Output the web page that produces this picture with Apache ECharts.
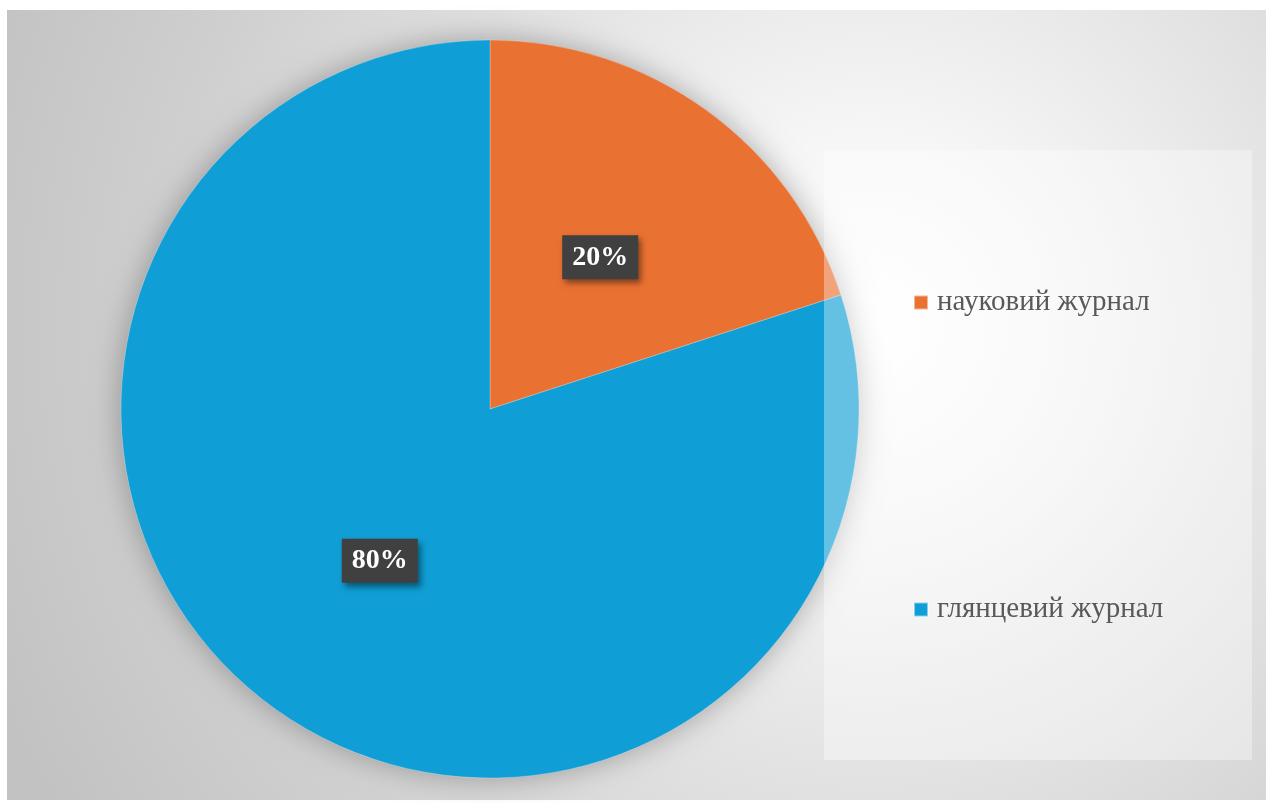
<!DOCTYPE html>
<html>
<head>
<meta charset="utf-8">
<script src="https://cdn.jsdelivr.net/npm/echarts@6/dist/echarts.min.js"></script>
<style>
html,body{margin:0;padding:0;background:#ffffff;}
#chart{width:1272px;height:803px;}
</style>
</head>
<body>
<div id="chart"></div>
<script>
const categories = ['науковий журнал', 'глянцевий журнал'];
const values = [20, 80];
const colors = ['#e97132', '#0f9ed5'];

const chart = echarts.init(document.getElementById('chart'));
const legendText = { fontFamily: 'Liberation Serif', fontSize: 29, color: '#595959', padding: [0, 0, 0, 4] };
const option = {
  animation: false,
  backgroundColor: '#ffffff',
  graphic: [
    {
      type: 'rect', z: -10, silent: true,
      shape: { x: 7, y: 10, width: 1259, height: 790 },
      style: {
        fill: new echarts.graphic.RadialGradient(0.685, 0.4, 1.2, [
          { offset: 0, color: '#ffffff' },
          { offset: 0.2, color: '#f6f6f6' },
          { offset: 0.75, color: '#cfcfcf' },
          { offset: 1, color: '#c2c2c2' }
        ])
      }
    },
    {
      type: 'rect', z: 10, silent: true,
      shape: { x: 824, y: 150, width: 428, height: 610 },
      style: { fill: 'rgba(255,255,255,0.36)' }
    }
  ],
  legend: [
    {
      z: 20, orient: 'vertical', left: 908, top: 283,
      data: [categories[0]], icon: 'rect', itemWidth: 14, itemHeight: 14,
      textStyle: legendText
    },
    {
      z: 20, orient: 'vertical', left: 908, top: 590,
      data: [categories[1]], icon: 'rect', itemWidth: 14, itemHeight: 14,
      textStyle: legendText
    }
  ],
  series: [
    {
      type: 'pie', z: 1, silent: true,
      center: [490, 409], radius: 369,
      label: { show: false }, labelLine: { show: false },
      itemStyle: { color: '#bbbbbb', shadowBlur: 30, shadowColor: 'rgba(0,0,0,0.3)' },
      data: [{ value: 1, name: '_shadow' }]
    },
    {
      type: 'pie', z: 2,
      center: [490, 409], radius: 369,
      startAngle: 90, clockwise: true,
      itemStyle: { borderWidth: 0.5, borderColor: 'rgba(255,255,255,0.5)' },
      label: {
        show: true, position: 'inside',
        formatter: '{d}%',
        fontFamily: 'Liberation Serif', fontSize: 28, fontWeight: 'bold', color: '#ffffff',
        backgroundColor: '#404040', padding: [8, 10, 6, 10], lineHeight: 30,
        shadowBlur: 6, shadowOffsetX: 3, shadowOffsetY: 4, shadowColor: 'rgba(0,0,0,0.45)'
      },
      labelLine: { show: false },
      data: categories.map((c, i) => ({ name: c, value: values[i], itemStyle: { color: colors[i] } }))
    }
  ]
};
chart.setOption(option);
</script>
</body>
</html>
